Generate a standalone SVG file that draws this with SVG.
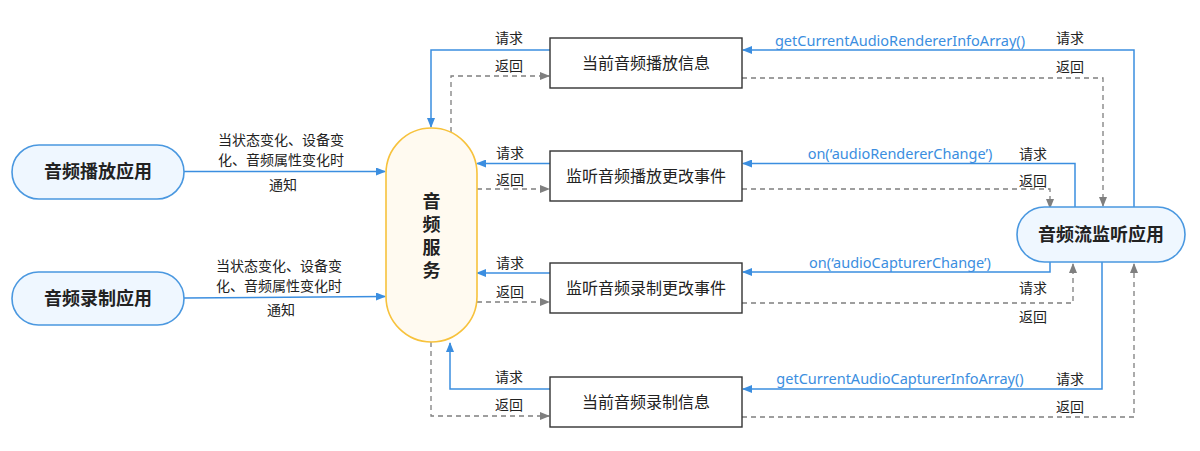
<svg xmlns="http://www.w3.org/2000/svg" width="1200" height="451" viewBox="0 0 1200 451">
<style>
text{font-family:"Noto Sans CJK SC","Noto Sans",sans-serif;fill:#222}
.lbl{font-size:14px;text-anchor:middle}
.api{font-family:"Noto Sans","Noto Sans CJK SC",sans-serif;font-size:14.5px;text-anchor:middle;fill:#3b8ee0}
.app{fill:#eff7ff;stroke:#4a98e0;stroke-width:1.6}
.svc{fill:#fffaf0;stroke:#f7c23c;stroke-width:1.6}
.box{fill:#fff;stroke:#333;stroke-width:1.4}
.nt{font-size:18px;font-weight:bold;text-anchor:middle}
.vt{writing-mode:vertical-rl;letter-spacing:5px}
.bt{font-size:16px;text-anchor:middle}
.req{fill:none;stroke:#3b8ee0;stroke-width:1.5;marker-end:url(#ab)}
.ret{fill:none;stroke:#7f7f7f;stroke-width:1.3;stroke-dasharray:5 4;marker-end:url(#ag)}
</style>
<defs>
<marker id="ab" markerWidth="10" markerHeight="8" refX="9" refY="4" orient="auto" markerUnits="userSpaceOnUse"><path d="M0,0 L10,4 L0,8 Z" fill="#3b8ee0"/></marker>
<marker id="ag" markerWidth="10" markerHeight="8" refX="9" refY="4" orient="auto" markerUnits="userSpaceOnUse"><path d="M0,0 L10,4 L0,8 Z" fill="#7f7f7f"/></marker>
</defs>
<rect width="1200" height="451" fill="#fff"/>
<g id="connectors">
<path class="req" d="M184,171.5 L385,171.5"/>
<path class="req" d="M184,298 L385,296.5"/>
<path class="req" d="M550,50 L431,50 L431,127"/>
<path class="ret" d="M451,132 L451,76 L549,76"/>
<path class="req" d="M550,163.5 L477,163.5"/>
<path class="ret" d="M477,189 L549,189"/>
<path class="req" d="M550,273 L477,273"/>
<path class="ret" d="M477,302 L549,302"/>
<path class="req" d="M550,389 L450,389 L450,343"/>
<path class="ret" d="M431,342 L431,416 L549,416"/>
<path class="req" d="M1134,207 L1134,50 L743,50"/>
<path class="ret" d="M742,78 L1103,78 L1103,206"/>
<path class="req" d="M1075,207 L1075,163.5 L743,163.5"/>
<path class="ret" d="M742,189 L1050,189 L1050,208"/>
<path class="req" d="M1050,262 L1050,272 L743,272"/>
<path class="ret" d="M742,303 L1073,303 L1073,264"/>
<path class="req" d="M1102,262 L1102,389 L743,389"/>
<path class="ret" d="M742,417 L1134,417 L1134,264"/>
</g>
<g id="labels">
<text class="lbl" x="281" y="145">当状态变化、设备变</text>
<text class="lbl" x="281" y="165">化、音频属性变化时</text>
<text class="lbl" x="283" y="190">通知</text>
<text class="lbl" x="279" y="271">当状态变化、设备变</text>
<text class="lbl" x="279" y="291">化、音频属性变化时</text>
<text class="lbl" x="281" y="315">通知</text>
<text class="lbl" x="509" y="43">请求</text>
<text class="lbl" x="509" y="71">返回</text>
<text class="lbl" x="510" y="158">请求</text>
<text class="lbl" x="510" y="185">返回</text>
<text class="lbl" x="510" y="268">请求</text>
<text class="lbl" x="510" y="297">返回</text>
<text class="lbl" x="509" y="382">请求</text>
<text class="lbl" x="509" y="410">返回</text>
<text class="api" x="900" y="46">getCurrentAudioRendererInfoArray()</text>
<text class="lbl" x="1070" y="43">请求</text>
<text class="lbl" x="1070" y="72">返回</text>
<text class="api" x="900" y="159">on(‘audioRendererChange’)</text>
<text class="lbl" x="1033" y="159">请求</text>
<text class="lbl" x="1033" y="186">返回</text>
<text class="api" x="900" y="268">on(‘audioCapturerChange’)</text>
<text class="lbl" x="1033" y="293">请求</text>
<text class="lbl" x="1033" y="322">返回</text>
<text class="api" x="900" y="384">getCurrentAudioCapturerInfoArray()</text>
<text class="lbl" x="1070" y="384">请求</text>
<text class="lbl" x="1070" y="412">返回</text>
</g>
<g id="play-app">
<rect class="app" x="12" y="145" width="172" height="54" rx="27"/>
<text class="nt" x="98" y="178">音频播放应用</text>
</g>
<g id="record-app">
<rect class="app" x="12" y="272" width="172" height="53" rx="26.5"/>
<text class="nt" x="98" y="304.5">音频录制应用</text>
</g>
<g id="audio-service">
<rect class="svc" x="386" y="128" width="91" height="214" rx="45.5"/>
<text class="nt vt" x="431.5" y="238">音频服务</text>
</g>
<g id="render-info">
<rect class="box" x="550" y="38" width="192" height="50"/>
<text class="bt" x="646" y="68.5">当前音频播放信息</text>
</g>
<g id="render-change">
<rect class="box" x="550" y="151" width="192" height="50"/>
<text class="bt" x="646" y="181.5">监听音频播放更改事件</text>
</g>
<g id="capture-change">
<rect class="box" x="550" y="263" width="192" height="50"/>
<text class="bt" x="646" y="293.5">监听音频录制更改事件</text>
</g>
<g id="capture-info">
<rect class="box" x="550" y="377" width="192" height="50"/>
<text class="bt" x="646" y="407.5">当前音频录制信息</text>
</g>
<g id="monitor-app">
<rect class="app" x="1017" y="207" width="168" height="55" rx="27.5"/>
<text class="nt" x="1101" y="241">音频流监听应用</text>
</g>
</svg>
